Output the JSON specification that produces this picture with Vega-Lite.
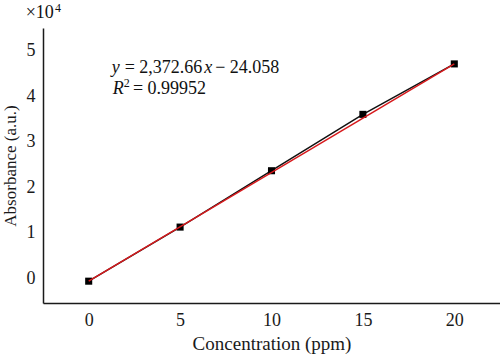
{
  "$schema": "https://vega.github.io/schema/vega-lite/v6.json",
  "width": 457,
  "height": 275,
  "autosize": {"type": "none"},
  "padding": {"left": 43, "top": 28, "right": 0, "bottom": 52},
  "background": "white",
  "config": {
    "view": {"stroke": null},
    "font": "Liberation Serif",
    "axis": {
      "domainColor": "#1a1a1a",
      "domainWidth": 1.5,
      "ticks": false,
      "grid": false,
      "labelFont": "Liberation Serif",
      "labelFontSize": 18,
      "labelColor": "#1a1a1a",
      "titleFont": "Liberation Serif",
      "titleFontWeight": "normal",
      "titleColor": "#1a1a1a"
    }
  },
  "datasets": {
    "points": [
      {"conc": 0, "abs": -700},
      {"conc": 5, "abs": 11200},
      {"conc": 10, "abs": 23600},
      {"conc": 15, "abs": 36000},
      {"conc": 20, "abs": 47100}
    ],
    "fit": [
      {"conc": 0, "abs": -700},
      {"conc": 20, "abs": 47100}
    ],
    "normalText": [
      {"conc": 1.97, "abs": 46300, "t": "= 2,372.66"},
      {"conc": 6.92, "abs": 46300, "t": "− 24.058"},
      {"conc": 2.42, "abs": 41600, "t": "= 0.99952"},
      {"conc": -3.45, "abs": 58300, "t": "×10"}
    ],
    "italicText": [
      {"conc": 1.26, "abs": 46300, "t": "y"},
      {"conc": 6.32, "abs": 46300, "t": "x"},
      {"conc": 1.32, "abs": 41600, "t": "R"}
    ],
    "supText": [
      {"conc": 1.92, "abs": 42950, "t": "2"},
      {"conc": -1.84, "abs": 59500, "t": "4"}
    ]
  },
  "layer": [
    {
      "data": {"name": "points"},
      "mark": {"type": "line", "color": "#111111", "strokeWidth": 1.5},
      "encoding": {
        "x": {
          "field": "conc", "type": "quantitative",
          "scale": {"domain": [-2.5, 22.5], "nice": false, "zero": false},
          "axis": {"values": [0, 5, 10, 15, 20], "labelPadding": 8, "title": "Concentration (ppm)", "titleFontSize": 19, "titlePadding": 5}
        },
        "y": {
          "field": "abs", "type": "quantitative",
          "scale": {"domain": [-5500, 55000], "nice": false, "zero": false},
          "axis": {"values": [0, 10000, 20000, 30000, 40000, 50000], "labelExpr": "datum.value / 10000", "labelPadding": 8, "title": "Absorbance (a.u.)", "titleFontSize": 17, "titlePadding": 7}
        }
      }
    },
    {
      "data": {"name": "points"},
      "mark": {"type": "square", "color": "#000000", "opacity": 1, "filled": true, "size": 50},
      "encoding": {
        "x": {"field": "conc", "type": "quantitative"},
        "y": {"field": "abs", "type": "quantitative"}
      }
    },
    {
      "data": {"name": "fit"},
      "mark": {"type": "line", "color": "#d7191c", "strokeWidth": 1.5},
      "encoding": {
        "x": {"field": "conc", "type": "quantitative"},
        "y": {"field": "abs", "type": "quantitative"}
      }
    },
    {
      "data": {"name": "normalText"},
      "mark": {"type": "text", "align": "left", "baseline": "middle", "font": "Liberation Serif", "fontSize": 18, "color": "#111111"},
      "encoding": {
        "x": {"field": "conc", "type": "quantitative"},
        "y": {"field": "abs", "type": "quantitative"},
        "text": {"field": "t"}
      }
    },
    {
      "data": {"name": "italicText"},
      "mark": {"type": "text", "align": "left", "baseline": "middle", "font": "Liberation Serif", "fontSize": 18, "fontStyle": "italic", "color": "#111111"},
      "encoding": {
        "x": {"field": "conc", "type": "quantitative"},
        "y": {"field": "abs", "type": "quantitative"},
        "text": {"field": "t"}
      }
    },
    {
      "data": {"name": "supText"},
      "mark": {"type": "text", "align": "left", "baseline": "middle", "font": "Liberation Serif", "fontSize": 12, "color": "#111111"},
      "encoding": {
        "x": {"field": "conc", "type": "quantitative"},
        "y": {"field": "abs", "type": "quantitative"},
        "text": {"field": "t"}
      }
    }
  ]
}
